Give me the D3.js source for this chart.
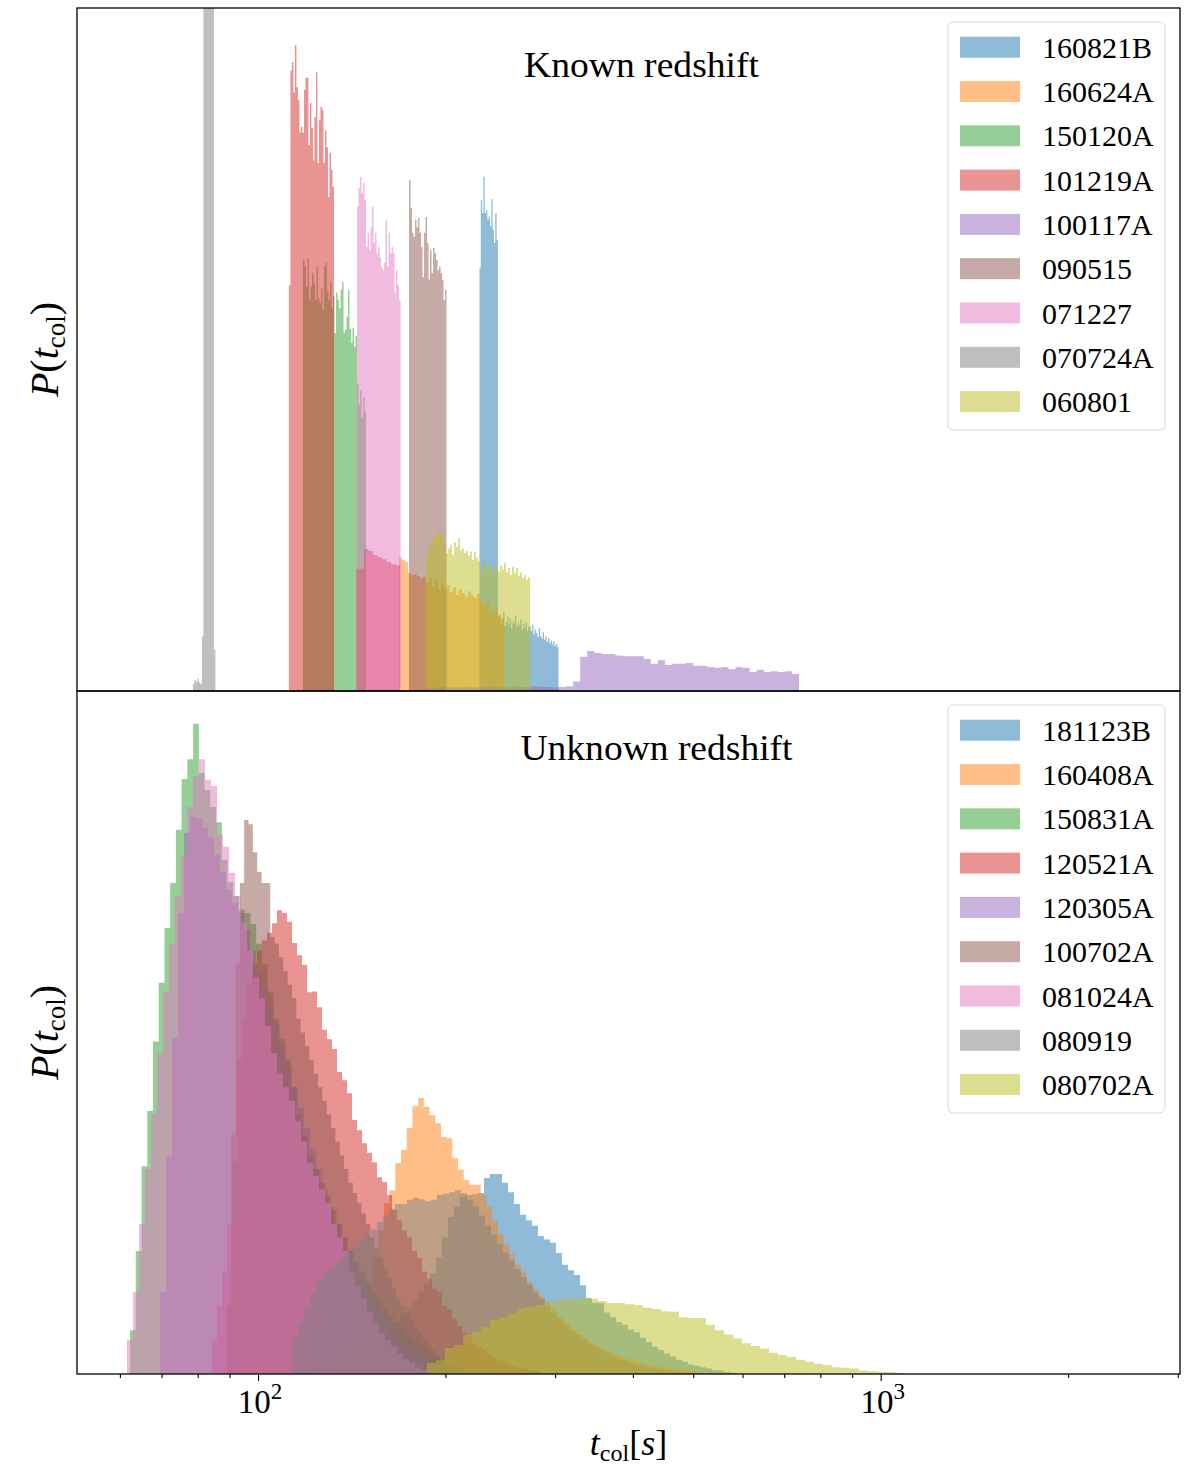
<!DOCTYPE html>
<html>
<head>
<meta charset="utf-8">
<script src="https://cdn.jsdelivr.net/npm/d3@7"></script>
<style>
  body { margin: 0; background: #fff; }
  text { font-family: "Liberation Serif", "DejaVu Serif", serif; fill: #000; }
</style>
</head>
<body>
<div id="chart"></div>
<script>
/*
two stacked log-x histogram panels of collapse time t_col
*/

// x axis
var xDomain = [51.2, 3025];
var xTicksMajor = [100, 1000];
var xTicksMinor = [60, 70, 80, 90, 200, 300, 400, 500, 600, 700, 800, 900, 2000, 3000];
var majorLabels = [["10", "2"], ["10", "3"]];

// legend names, in drawing order
var knownNames = ["160821B", "160624A", "150120A", "101219A", "100117A", "090515", "071227", "070724A", "060801"];
var unknownNames = ["181123B", "160408A", "150831A", "120521A", "120305A", "100702A", "081024A", "080919", "080702A"];

// each histogram: [first edge, last edge] in seconds (log-uniform bins) and bar heights
// (heights as a fraction of the panel height)

// ---- known redshift ----
var k160821B_range = [226.8, 303.8];
var k160821B = [0.62, 0.719, 0.70, 0.753, 0.70, 0.704, 0.69, 0.695, 0.68, 0.72, 0.675, 0.656, 0.70, 0.66,
    0.108, 0.112, 0.098, 0.104, 0.116, 0.095, 0.101, 0.109, 0.097, 0.106, 0.092, 0.103, 0.099, 0.110, 0.094, 0.100,
    0.096, 0.105, 0.090, 0.098, 0.093, 0.101, 0.088, 0.096,
    0.094, 0.088, 0.097, 0.083, 0.090, 0.085, 0.079, 0.092, 0.081, 0.077, 0.086, 0.075, 0.080, 0.072, 0.078, 0.070,
    0.074, 0.068, 0.073, 0.066, 0.069, 0.064];

var k160624A_range = [168.4, 248.3];
var k160624A = [0.196, 0.192, 0.189, 0.173, 0.170, 0.171, 0.168, 0.165, 0.167,
    0.160, 0.166, 0.152, 0.163, 0.148, 0.158, 0.150, 0.155, 0.145, 0.152, 0.141, 0.149, 0.143, 0.138, 0.146, 0.140, 0.136, 0.142,
    0.130, 0.125, 0.132, 0.120, 0.115, 0.121, 0.110, 0.108];

var k150120A_range = [118.1, 149.1];
var k150120A = [0.631, 0.621, 0.592, 0.634, 0.572, 0.592, 0.612, 0.597, 0.572, 0.621, 0.575, 0.568, 0.590, 0.558, 0.621,
    0.627, 0.585, 0.572, 0.600, 0.560, 0.578,
    0.524, 0.583, 0.572, 0.560, 0.587, 0.599, 0.524, 0.529, 0.548, 0.587, 0.530, 0.510, 0.531, 0.504, 0.520,
    0.45, 0.42, 0.44, 0.40, 0.43, 0.41];

var k101219A_range = [112.1, 169.1];
var k101219A = [0.594, 0.909, 0.921, 0.876, 0.946, 0.884, 0.865, 0.818, 0.826, 0.817, 0.880, 0.898, 0.898, 0.799, 0.861,
    0.824, 0.777, 0.840, 0.906, 0.773, 0.836, 0.855, 0.851, 0.773, 0.821, 0.796, 0.723, 0.788, 0.763, 0.738,
    0, 0, 0, 0, 0, 0, 0, 0, 0, 0, 0, 0, 0, 0, 0,
    0.179, 0.179, 0.179, 0.179, 0.179, 0.208, 0.208, 0.208, 0.205, 0.205, 0.205, 0.199, 0.199, 0.199, 0.196,
    0.196, 0.196, 0.193, 0.193, 0.193, 0.189, 0.189, 0.189, 0.186, 0.186, 0.186, 0.184, 0.184, 0.184];

var k100117A_range = [185.4, 739.3];
var k100117A = [0.004, 0.005, 0.005, 0.006, 0.005, 0.006, 0.006, 0.005, 0.006, 0.007, 0.006, 0.006, 0.007, 0.006, 0.006,
    0.007, 0.006, 0.006, 0.005, 0.006, 0.007, 0.014, 0.05,
    0.0586, 0.0556, 0.054, 0.054, 0.052, 0.051, 0.051, 0.051, 0.047, 0.040, 0.045, 0.038, 0.040, 0.040, 0.041,
    0.037, 0.037, 0.035, 0.034, 0.035, 0.032, 0.035, 0.034, 0.028, 0.031, 0.028, 0.029, 0.028, 0.029, 0.025];

var k090515_range = [174.8, 200.8];
var k090515 = [0.748, 0.707, 0.671, 0.665, 0.690, 0.679, 0.693, 0.671, 0.650, 0.606, 0.671, 0.694, 0.656, 0.602, 0.646,
    0.612, 0.649, 0.641, 0.631, 0.616, 0.621, 0.612, 0.602, 0.572, 0.587];

var k071227_range = [144.2, 169.4];
var k071227 = [0.709, 0.736, 0.753, 0.729, 0.745, 0.719, 0.650, 0.671, 0.646, 0.679, 0.709, 0.656, 0.671, 0.641, 0.650,
    0.635, 0.621, 0.616, 0.627, 0.690, 0.621, 0.671, 0.641, 0.650, 0.641, 0.583, 0.616, 0.594, 0.572];

var k070724A_range = [78.6, 85.4];
var k070724A = [0.010, 0.016, 0.013, 0.018, 0.012, 0.010, 0.080, 1.5, 1.5, 1.5, 1.5, 1.5, 1.5, 1.5, 0.060];

var k060801_range = [186.1, 273.4];
var k060801 = [0.202, 0.209, 0.214, 0.221, 0.227, 0.231, 0.233, 0.228, 0.233, 0.218, 0.202, 0.209, 0.214, 0.199, 0.218,
    0.211, 0.224, 0.206, 0.209, 0.202, 0.205, 0.198, 0.204, 0.192, 0.204, 0.195, 0.190, 0.177,
    0.185, 0.190, 0.178, 0.188, 0.183, 0.176, 0.186, 0.180, 0.175,
    0.184, 0.177, 0.187, 0.174, 0.180, 0.170, 0.182, 0.173, 0.180, 0.168, 0.174, 0.165, 0.170, 0.163, 0.166];

// ---- unknown redshift ----
var u181123B_range = [115.9, 585.6];
var u181123B = [0.003, 0.005, 0.007, 0.009, 0.012, 0.015, 0.018, 0.022, 0.026, 0.03,
    0.035, 0.04, 0.046, 0.053, 0.06, 0.068, 0.077, 0.087, 0.097, 0.108,
    0.12, 0.133, 0.148, 0.171, 0.20, 0.23, 0.245, 0.26, 0.262, 0.263,
    0.265, 0.287, 0.293, 0.293, 0.28, 0.266, 0.249, 0.233, 0.225, 0.217,
    0.202, 0.197, 0.192, 0.177, 0.16, 0.152, 0.145, 0.13, 0.111, 0.104,
    0.104, 0.09, 0.083, 0.076, 0.072, 0.065, 0.061, 0.053, 0.047, 0.04,
    0.035, 0.03, 0.026, 0.021, 0.018, 0.014, 0.012, 0.01, 0.008, 0.006,
    0.005, 0.003, 0.002];

var u160408A_range = [129.0, 507.9];
var u160408A = [0.008, 0.014, 0.022, 0.035, 0.05, 0.07, 0.10, 0.13, 0.17, 0.21,
    0.25, 0.269, 0.309, 0.328, 0.360, 0.392, 0.404, 0.391, 0.379, 0.367,
    0.347, 0.345, 0.316, 0.299, 0.284, 0.277, 0.277, 0.262, 0.245, 0.225,
    0.205, 0.19, 0.175, 0.16, 0.15, 0.135, 0.125, 0.115, 0.105, 0.095,
    0.085, 0.078, 0.07, 0.063, 0.057, 0.051, 0.046, 0.041, 0.037, 0.033,
    0.029, 0.026, 0.023, 0.02, 0.018, 0.016, 0.014, 0.012, 0.01, 0.009,
    0.008, 0.007, 0.006, 0.005, 0.004];

var u150831A_range = [62.3, 217.6];
var u150831A = [0.064, 0.18, 0.304, 0.385, 0.487, 0.573, 0.653, 0.719, 0.797, 0.871,
    0.900, 0.952, 0.88, 0.855, 0.83, 0.808, 0.753, 0.72, 0.70, 0.68,
    0.675, 0.659, 0.63, 0.60, 0.56, 0.52, 0.49, 0.46, 0.42, 0.38,
    0.35, 0.32, 0.30, 0.28, 0.26, 0.24, 0.22, 0.20, 0.18, 0.165,
    0.15, 0.135, 0.12, 0.108, 0.096, 0.085, 0.075, 0.066, 0.057, 0.049,
    0.042, 0.036, 0.03, 0.025, 0.02, 0.016, 0.012, 0.009, 0.006];

var u120521A_range = [84.35, 285.8];
var u120521A = [0.05, 0.10, 0.15, 0.22, 0.31, 0.46, 0.52, 0.57, 0.60, 0.62,
    0.635, 0.646, 0.66, 0.679, 0.675, 0.662, 0.631, 0.613, 0.599, 0.559,
    0.56, 0.537, 0.504, 0.490, 0.476, 0.442, 0.430, 0.411, 0.372, 0.357,
    0.338, 0.324, 0.310, 0.288, 0.281, 0.262, 0.24, 0.225, 0.21, 0.20,
    0.18, 0.17, 0.15, 0.14, 0.125, 0.12, 0.10, 0.095, 0.08, 0.07,
    0.06, 0.055, 0.045, 0.04, 0.035, 0.03, 0.025, 0.02, 0.018, 0.015,
    0.012, 0.01, 0.008, 0.006, 0.005, 0.004];

var u120305A_range = [69.6, 211.1];
var u120305A = [0.12, 0.318, 0.493, 0.675, 0.792, 0.816, 0.814, 0.80, 0.785, 0.76,
    0.735, 0.709, 0.69, 0.675, 0.65, 0.62, 0.59, 0.565, 0.54, 0.51,
    0.48, 0.45, 0.42, 0.39, 0.36, 0.33, 0.30, 0.27, 0.245, 0.22,
    0.20, 0.18, 0.16, 0.14, 0.125, 0.11, 0.095, 0.082, 0.07, 0.06,
    0.05, 0.042, 0.035, 0.028, 0.022, 0.017, 0.012, 0.008, 0.005, 0.003];

var u100702A_range = [89.1, 215.5];
var u100702A = [0.10, 0.35, 0.60, 0.719, 0.811, 0.805, 0.764, 0.735, 0.719, 0.719,
    0.64, 0.63, 0.61, 0.59, 0.57, 0.55, 0.52, 0.50, 0.48, 0.46,
    0.44, 0.42, 0.40, 0.38, 0.36, 0.34, 0.32, 0.30, 0.28, 0.265,
    0.25, 0.235, 0.22, 0.20, 0.185, 0.17, 0.155, 0.14, 0.125, 0.11,
    0.10, 0.09, 0.08, 0.07, 0.06, 0.05, 0.042, 0.035, 0.028, 0.022,
    0.017, 0.013, 0.01, 0.007, 0.005];

var u081024A_range = [61.6, 186.8];
var u081024A = [0.05, 0.12, 0.22, 0.30, 0.38, 0.47, 0.56, 0.63, 0.70, 0.76,
    0.83, 0.875, 0.900, 0.870, 0.861, 0.79, 0.772, 0.734, 0.70, 0.66,
    0.62, 0.58, 0.55, 0.51, 0.47, 0.44, 0.42, 0.40, 0.37, 0.34,
    0.31, 0.29, 0.27, 0.25, 0.22, 0.20, 0.18, 0.15, 0.13, 0.11,
    0.09, 0.075, 0.06, 0.05, 0.04, 0.03, 0.022, 0.016, 0.01, 0.006];

var u080919_range = [113.8, 514.5];
var u080919 = [0.054, 0.075, 0.098, 0.12, 0.136, 0.148, 0.157, 0.165, 0.172, 0.178,
    0.186, 0.194, 0.203, 0.212, 0.222, 0.232, 0.242, 0.249, 0.249, 0.255,
    0.258, 0.256, 0.253, 0.255, 0.262, 0.264, 0.266, 0.269, 0.265, 0.255,
    0.245, 0.232, 0.218, 0.204, 0.19, 0.178, 0.166, 0.153, 0.142, 0.131,
    0.12, 0.11, 0.10, 0.09, 0.081, 0.073, 0.065, 0.058, 0.051, 0.045,
    0.04, 0.035, 0.03, 0.026, 0.022, 0.019, 0.016, 0.013, 0.011, 0.009,
    0.007, 0.006, 0.005, 0.004, 0.003, 0.002, 0.002, 0.001];

var u080702A_range = [186.8, 1089.9];
var u080702A = [0.016, 0.02, 0.038, 0.042, 0.057, 0.062, 0.069, 0.079, 0.083, 0.089,
    0.096, 0.098, 0.101, 0.104, 0.108, 0.111, 0.110, 0.112, 0.110, 0.107,
    0.104, 0.104, 0.102, 0.101, 0.097, 0.095, 0.092, 0.091, 0.083, 0.082,
    0.082, 0.072, 0.064, 0.058, 0.052, 0.045, 0.041, 0.037, 0.031, 0.028,
    0.025, 0.021, 0.018, 0.015, 0.013, 0.010, 0.009, 0.008, 0.005, 0.004,
    0.003, 0.003, 0.002];

var knownData = [
    [k160821B_range, k160821B], [k160624A_range, k160624A], [k150120A_range, k150120A],
    [k101219A_range, k101219A], [k100117A_range, k100117A], [k090515_range, k090515],
    [k071227_range, k071227], [k070724A_range, k070724A], [k060801_range, k060801]
];
var unknownData = [
    [u181123B_range, u181123B], [u160408A_range, u160408A], [u150831A_range, u150831A],
    [u120521A_range, u120521A], [u120305A_range, u120305A], [u100702A_range, u100702A],
    [u081024A_range, u081024A], [u080919_range, u080919], [u080702A_range, u080702A]
];

var colors = d3.schemeCategory10;

var width = 1185, height = 1466;
var left = 77, right = 1180;

var svg = d3.select("#chart").append("svg")
    .attr("width", width)
    .attr("height", height);

var x = d3.scaleLog().domain(xDomain).range([left, right]);

function drawPanel(top, bottom, names, data, title, titleLen, idx) {
    var y = d3.scaleLinear().domain([0, 1]).range([bottom, top]);

    svg.append("clipPath").attr("id", "clip" + idx)
        .append("rect")
        .attr("x", left).attr("y", top)
        .attr("width", right - left).attr("height", bottom - top);

    var g = svg.append("g").attr("clip-path", "url(#clip" + idx + ")");

    var area = d3.area()
        .x(function (d) { return x(d.t); })
        .y0(y(0))
        .y1(function (d) { return y(d.v); })
        .curve(d3.curveStepAfter);

    data.forEach(function (s, k) {
        var range = s[0], h = s[1];
        var n = h.length;
        var r = Math.pow(range[1] / range[0], 1 / n);
        var pts = h.map(function (v, i) { return {t: range[0] * Math.pow(r, i), v: v}; });
        pts.push({t: range[1], v: h[n - 1]});
        g.append("path")
            .datum(pts)
            .attr("d", area)
            .attr("fill", colors[k])
            .attr("fill-opacity", 0.5)
            .attr("stroke", "none");
    });

    // title
    svg.append("text")
        .attr("x", (left + right) / 2 + 13 + (idx ? 15 : 0))
        .attr("y", top + 69)
        .attr("text-anchor", "middle")
        .attr("font-size", "35px")
        .attr("textLength", titleLen)
        .attr("lengthAdjust", "spacingAndGlyphs")
        .text(title);

    // legend
    var lg = svg.append("g").attr("transform", "translate(948," + (top + 14) + ")");
    lg.append("rect")
        .attr("width", 217).attr("height", 408)
        .attr("rx", 5).attr("ry", 5)
        .attr("fill", "#fff").attr("fill-opacity", 0.8)
        .attr("stroke", "#d8d8d8").attr("stroke-width", 1);
    names.forEach(function (nm, i) {
        lg.append("rect")
            .attr("x", 12).attr("y", 14.7 + i * 44.3)
            .attr("width", 60).attr("height", 21)
            .attr("fill", colors[i]).attr("fill-opacity", 0.5);
        lg.append("text")
            .attr("x", 94).attr("y", 35.7 + i * 44.3)
            .attr("font-size", "30px")
            .text(nm);
    });

    // y label P(t_col)
    var yl = svg.append("text")
        .attr("transform", "translate(58," + ((top + bottom) / 2) + ") rotate(-90)")
        .attr("text-anchor", "middle")
        .attr("font-size", "40px");
    yl.append("tspan").attr("font-style", "italic").text("P");
    yl.append("tspan").text("(");
    yl.append("tspan").attr("font-style", "italic").text("t");
    yl.append("tspan").attr("font-size", "27px").attr("dy", 7).text("col");
    yl.append("tspan").attr("dy", -7).text(")");

    // frame
    svg.append("rect")
        .attr("x", left).attr("y", top)
        .attr("width", right - left).attr("height", bottom - top)
        .attr("fill", "none").attr("stroke", "#000").attr("stroke-width", 1.3);

    return y;
}

drawPanel(8, 691, knownNames, knownData, "Known redshift", 235, 0);
drawPanel(691, 1374, unknownNames, unknownData, "Unknown redshift", 272, 1);

// shared x axis (only the lower panel shows ticks)
var axisMajor = d3.axisBottom(x).tickValues(xTicksMajor).tickSize(7).tickFormat("");
var axisMinor = d3.axisBottom(x).tickValues(xTicksMinor).tickSize(4).tickFormat("");

var gM = svg.append("g").attr("transform", "translate(0,1374)").call(axisMajor);
var gm = svg.append("g").attr("transform", "translate(0,1374)").call(axisMinor);
[gM, gm].forEach(function (ga) {
    ga.select(".domain").remove();
    ga.selectAll("line").attr("stroke", "#000").attr("stroke-width", 1.1);
});

xTicksMajor.forEach(function (t, i) {
    var lab = svg.append("text")
        .attr("x", x(t) + 2)
        .attr("y", 1413)
        .attr("text-anchor", "middle")
        .attr("font-size", "33px");
    lab.append("tspan").text(majorLabels[i][0]);
    lab.append("tspan").attr("font-size", "23px").attr("dy", -14).text(majorLabels[i][1]);
});

// x label t_col[s]
var xl = svg.append("text")
    .attr("x", (left + right) / 2)
    .attr("y", 1455)
    .attr("text-anchor", "middle")
    .attr("font-size", "36px");
xl.append("tspan").attr("font-style", "italic").text("t");
xl.append("tspan").attr("font-size", "24px").attr("dy", 6).text("col");
xl.append("tspan").attr("dy", -6).text("[");
xl.append("tspan").attr("font-style", "italic").text("s");
xl.append("tspan").text("]");
</script>
</body>
</html>
